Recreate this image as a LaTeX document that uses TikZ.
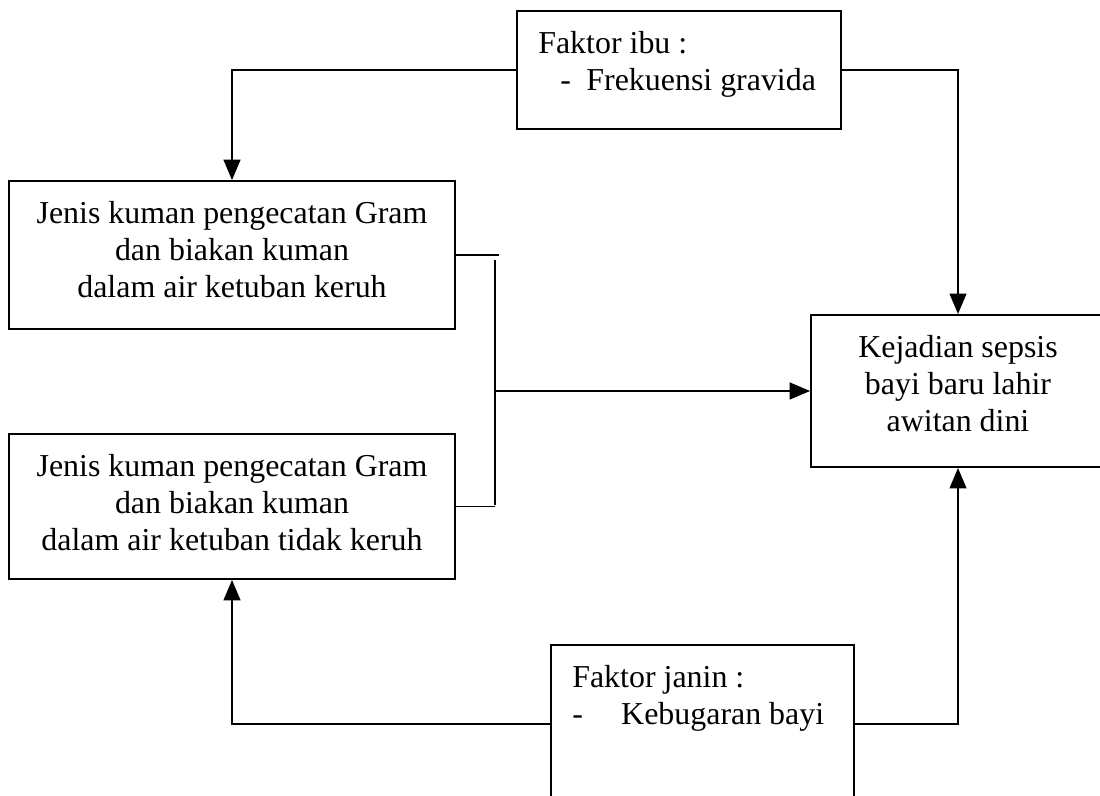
\documentclass[tikz,border=0pt]{standalone}
\usepackage{fontspec}
\setmainfont{Liberation Serif}
\usetikzlibrary{arrows}

\begin{document}
\begin{tikzpicture}[x=0.376pt,y=-0.376pt,>=triangle 45,line width=0.75pt,
  font=\fontsize{12}{13.9}\selectfont,
  kotak/.style={draw,line width=0.75pt,inner xsep=8pt,inner ysep=7.8pt}]
\useasboundingbox (0,0) rectangle (1100,796);
% kotak-kotak
\node[kotak] (ibu) at (679,70) {\parbox[t][28.8pt][t]{105.8pt}{Faktor ibu :\\
  \hspace*{8.3pt}-\hspace{5.8pt}Frekuensi gravida}};
\node[kotak] (jkeruh) at (232,255) {\parbox[t][40pt][t]{151.7pt}{\centering
  Jenis kuman pengecatan Gram\\dan biakan kuman\\dalam air ketuban keruh}};
\node[kotak] (jtidak) at (232,506.5) {\parbox[t][38.9pt][t]{151.7pt}{\centering
  Jenis kuman pengecatan Gram\\dan biakan kuman\\dalam air ketuban tidak keruh}};
\node[kotak] (sepsis) at (958,391) {\parbox[t][41.6pt][t]{94.5pt}{\centering
  Kejadian sepsis\\bayi baru lahir\\awitan dini}};
\node[kotak] (janin) at (702.5,724) {\parbox[t][43.8pt][t]{97.9pt}{Faktor janin :\\
  -\hspace{14.4pt}Kebugaran bayi}};
% panah
\draw[->] (ibu.west) -| (jkeruh.north);
\draw[->] (ibu.east) -| (sepsis.north);
\draw[->] (janin.west) -| (jtidak.south);
\draw[->] (janin.east) -| (sepsis.south);
% kurung gabungan
\coordinate (atas) at (495,260);
\coordinate (bawah) at (495,505);
\draw (jkeruh.east) -- ++(43,0);
\draw (jtidak.east) -- (jtidak.east -| bawah);
\draw (atas) -- (bawah);
\draw[->] (atas |- sepsis.west) -- (sepsis.west);
\end{tikzpicture}
\end{document}
